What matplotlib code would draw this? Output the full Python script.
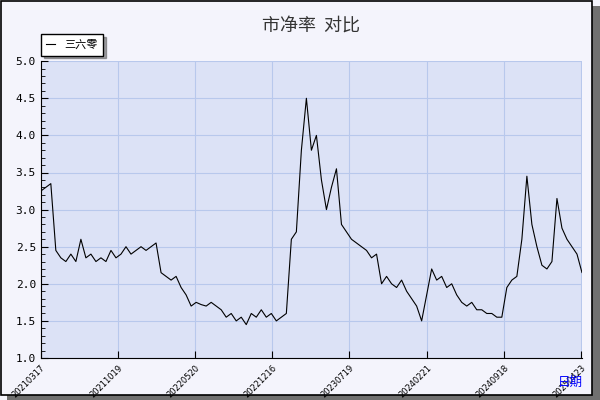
import numpy as np
import matplotlib.pyplot as plt
from matplotlib.patches import Rectangle

plt.rcParams['font.family'] = ['Noto Sans CJK SC', 'DejaVu Sans']

tick_labels = ['20210317', '20211019', '20220520', '20221216',
               '20230719', '20240221', '20240918', '20250423']
# price-to-book ratio, sampled roughly evenly along the date axis
pb = [3.25, 3.30, 3.35, 2.45, 2.35, 2.30, 2.40, 2.30, 2.60, 2.35, 2.40, 2.30,
      2.35, 2.30, 2.45, 2.35, 2.40, 2.50, 2.40, 2.45, 2.50, 2.45, 2.50, 2.55,
      2.15, 2.10, 2.05, 2.10, 1.95, 1.85, 1.70, 1.75, 1.72, 1.70, 1.75, 1.70,
      1.65, 1.55, 1.60, 1.50, 1.55, 1.45, 1.60, 1.55, 1.65, 1.55, 1.60, 1.50,
      1.55, 1.60, 2.60, 2.70, 3.80, 4.50, 3.80, 4.00, 3.40, 3.00, 3.30, 3.55,
      2.80, 2.70, 2.60, 2.55, 2.50, 2.45, 2.35, 2.40, 2.00, 2.10, 2.00, 1.95,
      2.05, 1.90, 1.80, 1.70, 1.50, 1.85, 2.20, 2.05, 2.10, 1.95, 2.00, 1.85,
      1.75, 1.70, 1.75, 1.65, 1.65, 1.60, 1.60, 1.55, 1.55, 1.95, 2.05, 2.10,
      2.60, 3.45, 2.80, 2.50, 2.25, 2.20, 2.30, 3.15, 2.75, 2.60, 2.50, 2.40,
      2.15, 2.35, 2.40]

fig = plt.figure(figsize=(6, 4), dpi=100)
fig.patch.set_facecolor('#f4f4fc')
# shadow and frame around figure
fig.patches.append(Rectangle((0.012, 0.0), 0.988, 0.985, transform=fig.transFigure,
                             facecolor='#707070', edgecolor='none', zorder=-2))
fig.patches.append(Rectangle((0.002, 0.012), 0.985, 0.985, transform=fig.transFigure,
                             facecolor='#f4f4fc', edgecolor='black', lw=1.2, zorder=-1))

ax = fig.add_axes([0.068, 0.105, 0.902, 0.742])
ax.set_facecolor('#dce2f6')
x = np.arange(len(pb))
ax.plot(x, pb, color='black', lw=0.8, label='三六零')
ticks = np.linspace(0, 7 * 77 / 5, 8)
ax.set_xticks(ticks)
ax.set_xticklabels(tick_labels, rotation=45, ha='right', va='top',
                   rotation_mode='anchor', fontsize=6, family='DejaVu Sans')
ax.set_xlim(0, 108)
ax.set_ylim(1.0, 5.0)
ax.set_yticks(np.arange(1.0, 5.01, 0.5))
ax.set_yticklabels(['%.1f' % v for v in np.arange(1.0, 5.01, 0.5)],
                   fontsize=8, family='DejaVu Sans Mono')
ax.yaxis.set_minor_locator(plt.MultipleLocator(0.1))
ax.tick_params(axis='y', which='minor', length=3, direction='in')
ax.tick_params(axis='y', which='major', length=5, direction='in')
ax.tick_params(axis='x', length=5, direction='in', pad=4)
ax.grid(True, color='#b8c8ec', lw=0.8)
for s in ['top', 'right']:
    ax.spines[s].set_visible(False)
ax.set_title('市净率  对比', fontsize=13, pad=22, color='#333333')
leg = ax.legend(loc='lower left', bbox_to_anchor=(-0.01, 1.0), fontsize=8,
                frameon=True, fancybox=False, shadow=True, handlelength=0.8,
                borderpad=0.5)
leg.get_frame().set_edgecolor('black')
fig.text(0.93, 0.035, '日期', color='blue', fontsize=9)
fig.savefig('out.png', facecolor=fig.get_facecolor())
